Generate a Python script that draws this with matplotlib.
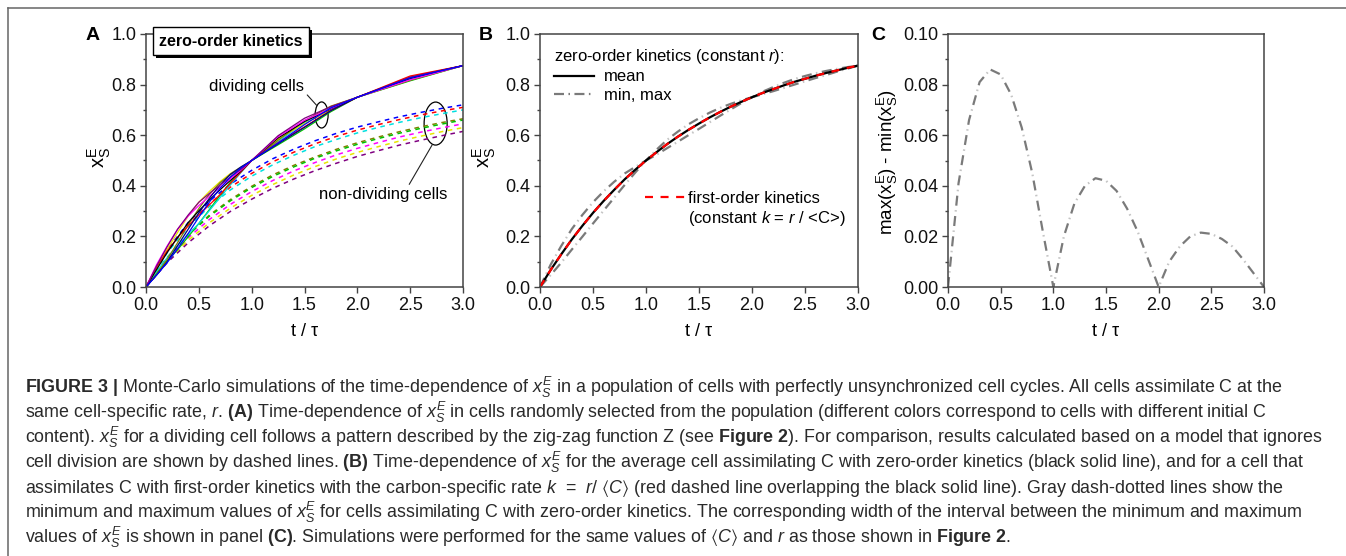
import numpy as np
import matplotlib
matplotlib.use('Agg')
import matplotlib.pyplot as plt
import matplotlib.patheffects as pe
from matplotlib.patches import Ellipse
from matplotlib.lines import Line2D
from matplotlib.ticker import MultipleLocator, FormatStrFormatter

plt.rcParams['font.family'] = ['Liberation Sans', 'DejaVu Sans']
plt.rcParams['mathtext.fontset'] = 'custom'
plt.rcParams['mathtext.rm'] = 'Liberation Sans'
plt.rcParams['mathtext.it'] = 'Liberation Sans:italic'
plt.rcParams['mathtext.bf'] = 'Liberation Sans:bold'
plt.rcParams['mathtext.fallback'] = 'stix'

# ---- data ----
# common time axis for panels B and C (t / tau)
t = [0.0, 0.1, 0.2, 0.3, 0.4, 0.5, 0.6, 0.7, 0.8, 0.9, 1.0,
     1.1, 1.2, 1.3, 1.4, 1.5, 1.6, 1.7, 1.8, 1.9, 2.0,
     2.1, 2.2, 2.3, 2.4, 2.5, 2.6, 2.7, 2.8, 2.9, 3.0]

# panel B: mean (zero-order) == first-order curve
x_mean = [0.000, 0.067, 0.129, 0.188, 0.242, 0.293, 0.340, 0.384, 0.426, 0.464, 0.500,
          0.533, 0.565, 0.594, 0.621, 0.646, 0.670, 0.692, 0.713, 0.732, 0.750,
          0.767, 0.782, 0.797, 0.811, 0.823, 0.835, 0.846, 0.856, 0.866, 0.875]
x_max = [0.000, 0.088, 0.162, 0.229, 0.285, 0.335, 0.378, 0.416, 0.449, 0.475, 0.500,
         0.543, 0.582, 0.614, 0.643, 0.667, 0.689, 0.708, 0.724, 0.738, 0.750,
         0.772, 0.790, 0.807, 0.822, 0.834, 0.845, 0.854, 0.862, 0.869, 0.875]
x_min = [0.000, 0.047, 0.096, 0.148, 0.199, 0.251, 0.302, 0.353, 0.404, 0.453, 0.500,
         0.523, 0.549, 0.574, 0.600, 0.625, 0.651, 0.677, 0.702, 0.727, 0.750,
         0.762, 0.774, 0.787, 0.800, 0.813, 0.826, 0.838, 0.851, 0.863, 0.875]

# panel C: max - min
x_width = [0.000, 0.041, 0.066, 0.081, 0.086, 0.084, 0.076, 0.063, 0.045, 0.022, 0.000,
           0.020, 0.033, 0.040, 0.043, 0.042, 0.038, 0.031, 0.022, 0.011, 0.000,
           0.010, 0.016, 0.020, 0.0215, 0.021, 0.019, 0.016, 0.011, 0.0055, 0.000]

# panel A: dividing cells (solid)
tA = [0.0, 0.1, 0.2, 0.3, 0.4, 0.5, 0.6, 0.7, 0.8, 0.9, 1.0, 1.25, 1.5, 1.75, 2.0, 2.5, 3.0]
div_colors = ['#00C000', '#00E0E0', '#E6E600', '#808000', '#FF0000',
              '#000000', '#FF00FF', '#000080', '#800080', '#0000FF']
div_cells = [
    [0, .055, .103, .148, .199, .251, .306, .362, .415, .461, .500, .562, .625, .693, .750, .815, .875],
    [0, .061, .116, .164, .208, .251, .302, .353, .404, .453, .500, .575, .650, .711, .750, .821, .875],
    [0, .075, .149, .216, .281, .335, .378, .416, .449, .474, .500, .585, .646, .699, .750, .831, .875],
    [0, .051, .109, .176, .246, .310, .367, .412, .444, .471, .500, .580, .657, .715, .750, .817, .875],
    [0, .079, .142, .196, .242, .285, .325, .365, .410, .455, .500, .571, .633, .698, .750, .834, .875],
    [0, .069, .136, .196, .255, .301, .344, .384, .422, .459, .500, .589, .654, .704, .750, .824, .875],
    [0, .088, .162, .229, .281, .322, .359, .394, .428, .462, .500, .594, .659, .706, .750, .819, .875],
    [0, .047, .099, .164, .229, .293, .351, .403, .446, .475, .500, .566, .631, .697, .750, .828, .875],
    [0, .083, .159, .229, .285, .335, .370, .403, .435, .466, .500, .598, .667, .713, .750, .829, .875],
    [0, .047, .096, .152, .212, .276, .336, .390, .435, .471, .500, .569, .642, .708, .750, .826, .875],
]

# panel A: non-dividing cells (dashed)
tN = [0.0, 0.2, 0.4, 0.6, 0.8, 1.0, 1.2, 1.4, 1.6, 1.8, 2.0, 2.2, 2.4, 2.6, 2.8, 3.0]
nondiv_colors = ['#0000FF', '#FF0000', '#00E0E0', '#808000', '#00C000', '#FF00FF', '#E6E600', '#800080']
nondiv_cells = [
    [0, .146, .255, .340, .407, .461, .507, .545, .578, .607, .632, .653, .673, .690, .706, .720],
    [0, .140, .246, .329, .395, .449, .495, .533, .566, .595, .620, .642, .662, .680, .696, .710],
    [0, .135, .237, .318, .384, .438, .483, .521, .555, .583, .609, .631, .651, .669, .685, .700],
    [0, .117, .209, .284, .346, .398, .443, .481, .514, .544, .570, .593, .614, .633, .650, .665],
    [0, .115, .206, .280, .341, .393, .437, .475, .509, .538, .564, .587, .608, .627, .644, .660],
    [0, .108, .195, .267, .327, .377, .421, .459, .492, .522, .548, .571, .593, .612, .629, .645],
    [0, .102, .185, .254, .312, .362, .405, .443, .476, .506, .532, .555, .577, .596, .614, .630],
    [0, .096, .175, .242, .299, .347, .390, .427, .460, .489, .516, .539, .561, .580, .598, .615],
]

caption_lines = [
    r'$\mathbf{FIGURE\ 3\ |}$ Monte-Carlo simulations of the time-dependence of $x_S^E$ in a population of cells with perfectly unsynchronized cell cycles. All cells assimilate C at the',
    r'same cell-specific rate, $r$. $\mathbf{(A)}$ Time-dependence of $x_S^E$ in cells randomly selected from the population (different colors correspond to cells with different initial C',
    r'content). $x_S^E$ for a dividing cell follows a pattern described by the zig-zag function Z (see $\mathbf{Figure\ 2}$). For comparison, results calculated based on a model that ignores',
    r'cell division are shown by dashed lines. $\mathbf{(B)}$ Time-dependence of $x_S^E$ for the average cell assimilating C with zero-order kinetics (black solid line), and for a cell that',
    r'assimilates C with first-order kinetics with the carbon-specific rate $k$  =  $r$/ $\langle C\rangle$ (red dashed line overlapping the black solid line). Gray dash-dotted lines show the',
    r'minimum and maximum values of $x_S^E$ for cells assimilating C with zero-order kinetics. The corresponding width of the interval between the minimum and maximum',
    r'values of $x_S^E$ is shown in panel $\mathbf{(C)}$. Simulations were performed for the same values of $\langle C\rangle$ and $r$ as those shown in $\mathbf{Figure\ 2}$.',
]

# ---- figure ----
W, H = 1346, 556
fig = plt.figure(figsize=(W / 100, H / 100), dpi=100)
FS = 13
FL = 12


def axes_px(l, t_, r, b):
    return fig.add_axes([l / W, 1 - b / H, (r - l) / W, (b - t_) / H])


def ftext(x, y, s, **kw):
    return fig.text(x / W, 1 - y / H, s, **kw)


def style(ax, ymax, major, minor, fmt):
    ax.set_xlim(0, 3)
    ax.set_ylim(0, ymax)
    ax.xaxis.set_major_locator(MultipleLocator(0.5))
    ax.xaxis.set_major_formatter(FormatStrFormatter('%.1f'))
    ax.yaxis.set_major_locator(MultipleLocator(major))
    ax.yaxis.set_minor_locator(MultipleLocator(minor))
    ax.yaxis.set_major_formatter(FormatStrFormatter(fmt))
    ax.tick_params(which='major', direction='out', length=4, width=1, color='#444',
                   labelsize=FS, pad=3, labelcolor='#111')
    ax.tick_params(which='minor', direction='out', length=2.5, width=1, color='#444')
    for s in ax.spines.values():
        s.set_linewidth(1.1)
        s.set_color('#444')


def dashdot(ax, x, y, lw=1.6):
    # long gray dashes with a faint light dot in between
    h, = ax.plot(x, y, color='#7a7a7a', lw=lw, ls=(0, (4.5, 4.7)))
    ax.plot(x, y, color='#c4c4c4', lw=lw, ls=(2.7, (0.7, 8.5)))
    return h


axA = axes_px(146, 34, 463, 287)
axB = axes_px(540, 34, 858, 287)
axC = axes_px(948, 34, 1264, 287)

# panel A
for vals, c in zip(nondiv_cells, nondiv_colors):
    axA.plot(tN, vals, color=c, lw=1.1, ls=(0, (3, 3)))
for vals, c in zip(div_cells, div_colors):
    axA.plot(tA, vals, color=c, lw=0.9)
style(axA, 1.0, 0.2, 0.1, '%.1f')

axA.add_patch(Ellipse((1.662, 0.680), 0.123, 0.103, fill=False, ec='black', lw=0.9))
axA.add_patch(Ellipse((2.741, 0.646), 0.218, 0.170, fill=False, ec='black', lw=0.9))
axA.annotate('dividing cells', xy=(1.615, 0.718), xytext=(1.05, 0.792), ha='center', va='center',
             fontsize=FL, arrowprops=dict(arrowstyle='-', lw=0.8, color='#222', shrinkA=0, shrinkB=0,
                                          relpos=(1.0, 0.15)))
axA.annotate('non-dividing cells', xy=(2.71, 0.563), xytext=(2.245, 0.365), ha='center', va='center',
             fontsize=FL, arrowprops=dict(arrowstyle='-', lw=0.8, color='#222', shrinkA=0, shrinkB=0,
                                          relpos=(0.69, 1.0)))

tbox = axA.text(0.268, 0.972, 'zero-order kinetics', transform=axA.transAxes, ha='center', va='center',
                fontsize=11.5, fontweight='bold', clip_on=False, zorder=6,
                bbox=dict(boxstyle='square,pad=0.4', fc='white', ec='black', lw=1))
tbox.get_bbox_patch().set_path_effects([
    pe.SimplePatchShadow(offset=(2.3, -2.3), shadow_rgbFace='black', alpha=1.0), pe.Normal()])

# panel B
h_max = dashdot(axB, t, x_max)
dashdot(axB, t, x_min)
h_mean, = axB.plot(t, x_mean, color='black', lw=1.6)
h_red, = axB.plot(t, x_mean, color='#FF0000', lw=1.6, ls=(0, (3.6, 3.4)))
style(axB, 1.0, 0.2, 0.1, '%.1f')

h_mm = Line2D([], [], color='#7a7a7a', lw=1.6, ls=(0, (4.5, 2, 0.7, 2)))
leg1 = axB.legend([h_mean, h_mm], ['mean', 'min, max'], title='zero-order kinetics (constant $r$):',
                  loc='upper left', bbox_to_anchor=(0.045, 0.948), frameon=False, fontsize=FL,
                  title_fontsize=FL, handlelength=2.4, handletextpad=0.6, labelspacing=0.2,
                  borderpad=0, borderaxespad=0, alignment='left')
axB.add_artist(leg1)
axB.legend([h_red, Line2D([], [], lw=0)], ['first-order kinetics', '(constant $k$ = $r$ / <C>)'],
           loc='upper left', bbox_to_anchor=(0.33, 0.38), frameon=False, fontsize=FL,
           handlelength=2.4, handletextpad=0.2, labelspacing=0.2, borderpad=0, borderaxespad=0)

# panel C
dashdot(axC, t, x_width)
style(axC, 0.10, 0.02, 0.01, '%.2f')

# axis labels
for cx in [304.5, 699, 1106]:
    ftext(cx, 332, 't / τ', ha='center', va='center', fontsize=FS)
ftext(99, 157, r'$\mathregular{x_S^E}$', ha='center', va='center', rotation=90, fontsize=14.5)
ftext(484, 157, r'$\mathregular{x_S^E}$', ha='center', va='center', rotation=90, fontsize=14.5)
ftext(887, 162, r'max($\mathregular{x_S^E}$) - min($\mathregular{x_S^E}$)', ha='center', va='center',
      rotation=90, fontsize=13.5)

# panel letters
ftext(93, 36, 'A', ha='center', va='center', fontsize=14, fontweight='bold')
ftext(486, 36, 'B', ha='center', va='center', fontsize=14, fontweight='bold')
ftext(878, 36, 'C', ha='center', va='center', fontsize=14, fontweight='bold')

# frame lines
fig.add_artist(Line2D([8 / W, 1], [1 - 8 / H, 1 - 8 / H], color='#666', lw=1.1))
fig.add_artist(Line2D([8 / W, 8 / W], [0, 1 - 8 / H], color='#666', lw=1.1))

# caption
for i, line in enumerate(caption_lines):
    ftext(25, 393 + 25 * i, line, ha='left', va='baseline', fontsize=12.9, color='#2a2a2a')

fig.savefig('out.png', dpi=100)
